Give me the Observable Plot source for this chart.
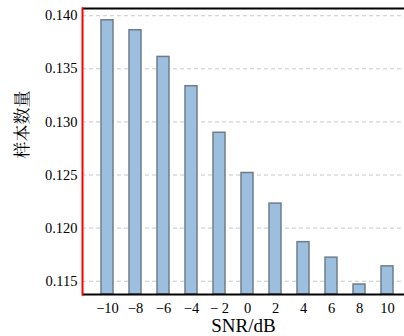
<!DOCTYPE html>
<html>
<head>
<meta charset="utf-8">
<script src="https://cdn.jsdelivr.net/npm/d3@7"></script>
<script src="https://cdn.jsdelivr.net/npm/@observablehq/plot@0.6"></script>
<style>
  html, body { margin: 0; padding: 0; background: #fff; overflow: hidden; }
  #chart svg { display: block; font-family: 'Liberation Serif', 'Times New Roman', serif; }
</style>
</head>
<body>
<div id="chart"></div>
<script>
const snr = [-10, -8, -6, -4, -2, 0, 2, 4, 6, 8, 10];
const values = [0.13957, 0.13863, 0.13612, 0.13336, 0.12898, 0.12519, 0.12231, 0.11868, 0.11722, 0.11469, 0.11640];
const xTickLabels = ["\u221210", "\u22128", "\u22126", "\u22124", "\u2212 2", "0", "2", "4", "6", "8", "10"];
const yTicks = [0.115, 0.120, 0.125, 0.130, 0.135, 0.140];
const yDomain = [0.11375, 0.14068];
const xLabel = "SNR/dB";
const yLabel = "样本数量";

const data = snr.map((s, i) => ({snr: s, v: values[i]}));
const labelOf = new Map(snr.map((s, i) => [s, xTickLabels[i]]));

const chart = Plot.plot({
  width: 404,
  height: 336,
  marginTop: 8,
  marginBottom: 42,
  marginLeft: 82,
  marginRight: 0,
  style: {fontFamily: "'Liberation Serif', 'Times New Roman', serif", fontSize: "14.5px", color: "black", background: "white"},
  x: {type: "band", domain: snr, range: [82, 411], paddingInner: 0.58, paddingOuter: 0.535, align: 0.5},
  y: {domain: yDomain},
  marks: [
    Plot.gridY(yTicks, {stroke: "#c8c8c8", strokeOpacity: 1, strokeDasharray: "4,3", strokeWidth: 1}),
    Plot.barY(data, {x: "snr", y1: () => yDomain[0], y2: "v", fill: "#9dbfdf", stroke: "#707d89", strokeWidth: 1.5}),
    Plot.axisY(yTicks, {tickSize: 0, tickPadding: 5, tickFormat: d3.format(".3f"), label: null, fontFamily: "'Liberation Serif', serif"}),
    Plot.axisX({tickSize: 0, tickPadding: 8, tickFormat: d => labelOf.get(d), label: null, fontFamily: "'Liberation Serif', serif"}),
    Plot.text([xLabel], {frameAnchor: "bottom", dy: 37, fontSize: 19, fontFamily: "'Liberation Serif', serif"}),
    Plot.text([yLabel], {frameAnchor: "left", dx: -60, dy: 7, rotate: -90, fontSize: 17, fontFamily: "'Noto Serif CJK SC', 'Noto Sans CJK SC', serif"}),
    Plot.ruleY([yDomain[0], yDomain[1]], {stroke: "black", strokeWidth: 2}),
    Plot.frame({anchor: "left", stroke: "red", strokeWidth: 2})
  ]
});
document.getElementById("chart").appendChild(chart);
</script>
</body>
</html>
